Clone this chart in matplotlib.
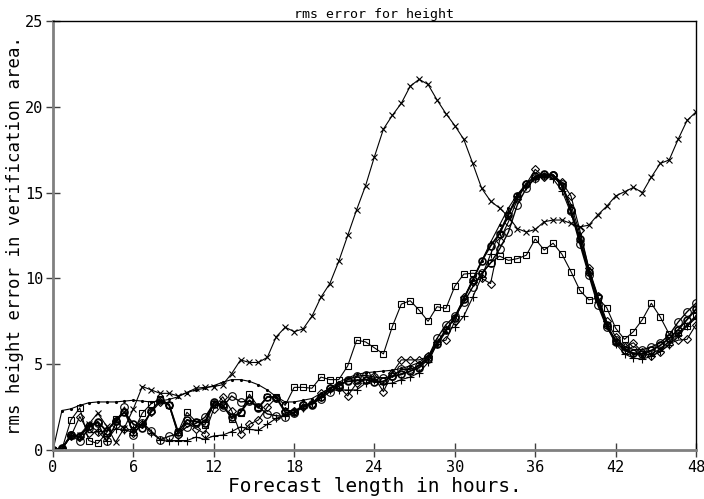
import numpy as np
import matplotlib
matplotlib.use("Agg")
import matplotlib.pyplot as plt

# forecast hours, one value every 40 minutes
hours = np.arange(73) * 2.0 / 3.0

cross = [0.0, 0.05, 0.8, 0.9, 1.5, 2.15, 1.4, 0.45, 1.3, 2.4,
         3.7, 3.5, 3.3, 3.3, 3.15, 3.35, 3.6, 3.65, 3.7, 3.8,
         4.45, 5.25, 5.1, 5.1, 5.4, 6.6, 7.15, 6.9, 7.05, 7.8,
         8.9, 9.7, 11.0, 12.5, 14.0, 15.4, 17.1, 18.7, 19.5, 20.2,
         21.2, 21.6, 21.3, 20.4, 19.6, 18.9, 18.1, 16.7, 15.25, 14.5,
         14.1, 13.6, 12.9, 12.7, 12.85, 13.3, 13.4, 13.4, 13.2, 13.0,
         13.1, 13.7, 14.2, 14.8, 15.05, 15.3, 15.0, 15.9, 16.7, 16.9,
         18.1, 19.2, 19.7]

square = [0.0, 0.05, 1.75, 2.45, 0.55, 0.38, 1.0, 1.8, 2.2, 1.05,
          2.15, 2.7, 3.0, 2.65, 1.05, 2.2, 1.65, 1.45, 2.68, 2.68,
          1.8, 2.15, 3.25, 2.5, 3.1, 3.1, 2.6, 3.65, 3.65, 3.6,
          4.25, 4.1, 4.1, 4.9, 6.4, 6.3, 5.95, 5.6, 7.2, 8.5,
          8.7, 8.15, 7.5, 8.35, 8.25, 9.55, 10.25, 10.3, 10.25, 10.9,
          11.3, 11.05, 11.15, 11.35, 12.3, 11.65, 12.05, 11.4, 10.4, 9.3,
          8.75, 8.85, 8.3, 7.1, 6.45, 6.9, 7.6, 8.55, 7.75, 6.75,
          6.8, 7.25, 7.8]

circle = [0.0, 0.05, 0.9, 0.5, 1.3, 1.6, 0.5, 1.5, 2.5, 0.9,
          1.6, 1.1, 0.6, 0.8, 0.95, 1.35, 1.55, 1.9, 2.7, 2.5,
          3.15, 2.8, 2.85, 2.5, 2.1, 2.0, 1.95, 2.15, 2.6, 2.7,
          3.0, 3.4, 3.7, 4.1, 4.3, 4.35, 4.25, 4.2, 4.3, 4.7,
          4.7, 4.9, 5.4, 6.5, 7.3, 7.8, 8.6, 9.5, 10.3, 10.9,
          11.7, 12.7, 14.3, 15.25, 15.85, 16.0, 16.05, 15.5, 13.9, 12.0,
          10.2, 8.45, 7.15, 6.4, 6.05, 5.85, 5.85, 6.0, 6.25, 6.7,
          7.45, 8.05, 8.55]

bold_circle = [0.0, 0.1, 0.85, 0.8, 1.4, 1.65, 1.1, 1.7, 2.2, 1.5,
               1.3, 2.3, 2.9, 2.65, 1.05, 1.75, 1.65, 1.6, 2.8, 2.6,
               1.9, 2.2, 2.9, 2.45, 3.1, 3.05, 2.2, 2.2, 2.6, 2.65,
               3.1, 3.6, 3.8, 4.0, 4.05, 4.1, 3.95, 4.0, 4.3, 4.4,
               4.6, 4.8, 5.3, 6.2, 7.0, 7.7, 8.8, 9.9, 11.0, 11.9,
               12.6, 13.7, 14.8, 15.5, 15.95, 16.1, 16.0, 15.4, 14.0, 12.3,
               10.4, 8.9, 7.3, 6.3, 5.8, 5.65, 5.6, 5.8, 6.1, 6.5,
               7.0, 7.6, 8.2]

diamond = [0.0, 0.05, 0.8, 1.95, 1.0, 1.05, 1.1, 1.7, 1.2, 1.0,
           1.5, 2.2, 2.8, 2.6, 0.9, 1.6, 1.25, 0.95, 2.4, 3.1,
           2.3, 0.95, 1.5, 1.75, 2.5, 3.05, 2.3, 2.3, 2.5, 2.7,
           3.3, 3.6, 3.7, 3.15, 3.9, 4.1, 4.2, 3.4, 4.5, 5.25,
           5.25, 5.25, 5.45, 6.3, 6.4, 7.5, 8.9, 9.8, 10.0, 9.7,
           12.2, 13.3, 14.6, 15.5, 16.35, 15.9, 16.0, 15.6, 14.8, 12.8,
           10.6, 9.0, 7.5, 6.6, 6.0, 6.25, 5.7, 5.5, 5.7, 6.2,
           6.4, 6.45, 7.3]

plus = [0.0, 0.1, 0.85, 0.75, 1.45, 1.1, 0.55, 1.25, 1.15, 1.2,
        1.5, 1.0, 0.6, 0.55, 0.55, 0.55, 0.75, 0.62, 0.82, 0.87,
        1.07, 1.35, 1.2, 1.15, 1.5, 1.85, 2.0, 2.2, 2.45, 2.75,
        3.1, 3.5, 3.5, 3.5, 3.5, 3.9, 4.05, 3.85, 3.9, 4.1,
        4.25, 4.5, 5.1, 6.2, 7.05, 7.15, 7.8, 8.9, 10.1, 11.4,
        12.7, 13.8, 14.8, 15.4, 15.8, 15.95, 15.8, 15.1, 13.8, 12.2,
        10.3, 8.6, 7.2, 6.2, 5.6, 5.35, 5.3, 5.45, 5.75, 6.1,
        6.7, 7.2, 7.7]

dots = [0.0, 2.3, 2.4, 2.6, 2.75, 2.8, 2.8, 2.8, 2.85, 2.9,
        2.85, 2.8, 2.85, 2.95, 3.1, 3.35, 3.5, 3.6, 3.75, 3.95,
        4.1, 4.1, 4.0, 3.8, 3.5, 3.1, 2.8, 2.8, 2.9, 3.0,
        3.3, 3.6, 3.95, 4.2, 4.4, 4.5, 4.55, 4.6, 4.65, 4.75,
        4.9, 5.1, 5.5, 6.1, 6.9, 7.8, 8.8, 9.9, 11.0, 12.1,
        13.1, 14.1, 14.9, 15.5, 15.9, 16.05, 15.95, 15.4, 14.3, 12.6,
        10.6, 8.7, 7.3, 6.4, 5.9, 5.6, 5.5, 5.6, 5.9, 6.3,
        6.8, 7.3, 7.8]

plt.rcParams["font.family"] = "DejaVu Sans Mono"

fig = plt.figure(figsize=(7.04, 4.99), dpi=100)
ax = fig.add_axes([0.0753, 0.0982, 0.9133, 0.8598])

ax.plot(hours, dots, color="black", lw=0.8, marker=".", ms=2.5)
ax.plot(hours, cross, color="black", lw=0.8, marker="x", ms=4, mew=0.8)
ax.plot(hours, square, color="black", lw=0.8, marker="s", ms=4.2,
        mfc="none", mew=0.8)
ax.plot(hours, plus, color="black", lw=0.8, marker="+", ms=5.5, mew=0.8)
ax.plot(hours, diamond, color="black", lw=0.8, marker="D", ms=4.2,
        mfc="none", mew=0.8)
ax.plot(hours, circle, color="black", lw=1.0, marker="o", ms=5.5,
        mfc="none", mew=0.8)
ax.plot(hours, bold_circle, color="black", lw=1.3, marker="o", ms=5,
        mfc="none", mew=1.2)

ax.set_xlim(0, 48)
ax.set_ylim(0, 25)
ax.set_xticks([0, 6, 12, 18, 24, 30, 36, 42, 48])
ax.set_yticks([0, 5, 10, 15, 20, 25])

for side in ["left", "bottom"]:
    ax.spines[side].set_color("#808080")
    ax.spines[side].set_linewidth(2)
for side in ["top", "right"]:
    ax.spines[side].set_color("black")
    ax.spines[side].set_linewidth(1)

ax.tick_params(axis="both", direction="inout", length=10, width=1,
               color="#404040", labelsize=11, pad=2)

ax.set_xlabel("Forecast length in hours.", fontsize=14, labelpad=2)
ax.set_ylabel("rms height error in verification area.", fontsize=12.5,
              labelpad=1)
ax.set_title("rms error for height", fontsize=9.5, pad=2)

fig.savefig("out.png", dpi=100)
